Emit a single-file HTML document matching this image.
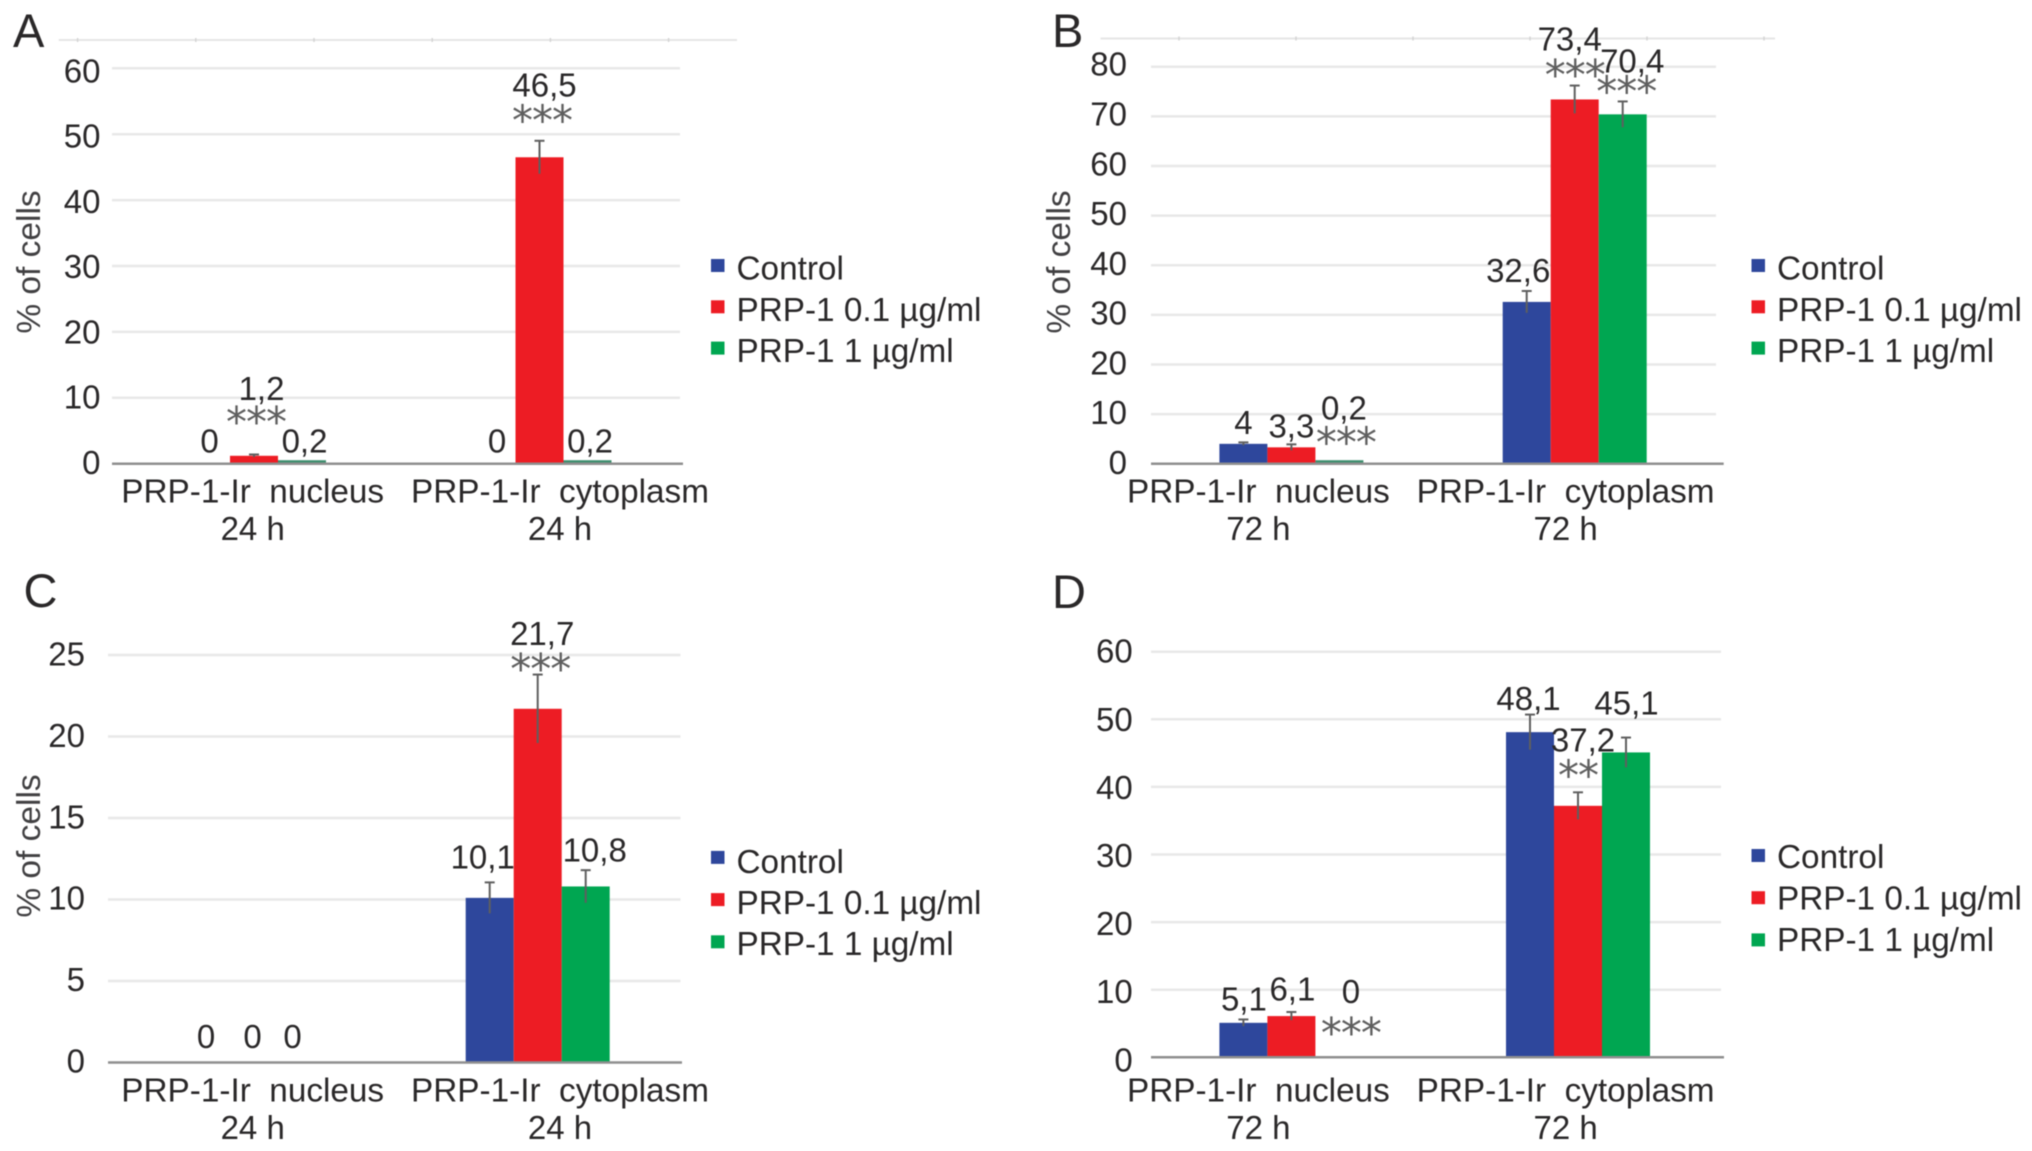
<!DOCTYPE html>
<html lang="en">
<head>
<meta charset="utf-8">
<title>PRP-1 immunoreactivity panels</title>
<style>
html,body{margin:0;padding:0;background:#fff;width:2032px;height:1151px;overflow:hidden}
svg{display:block;filter:blur(0.6px)}
text{font-family:"Liberation Sans",sans-serif;fill:#2a2829;white-space:pre}
</style>
</head>
<body>
<svg id="figure" xmlns="http://www.w3.org/2000/svg" width="2032" height="1151" viewBox="0 0 2032 1151"></svg>
<script>
/* ---------- shared labels ---------- */
const seriesNames = ['Control', 'PRP-1 0.1 µg/ml', 'PRP-1 1 µg/ml'];
const seriesColors = ['#2e479c', '#ed1c24', '#00a651'];
const categoriesNucleusCyto = ['PRP-1-Ir  nucleus', 'PRP-1-Ir  cytoplasm'];

/* ---------- panel A ---------- */
const timeA = ['24 h', '24 h'];
const ticksA = [0, 10, 20, 30, 40, 50, 60];
const controlA = [0, 0];
const low01A = [1.2, 46.5];
const high1A = [0.2, 0.2];
const controlErrA = [0, 0];
const low01ErrA = [0.2, 2.5];
const high1ErrA = [0, 0];
const starsLow01A = ['***', '***'];
const starsHigh1A = ['', ''];

/* ---------- panel B ---------- */
const timeB = ['72 h', '72 h'];
const ticksB = [0, 10, 20, 30, 40, 50, 60, 70, 80];
const controlB = [4, 32.6];
const low01B = [3.3, 73.4];
const high1B = [0.2, 70.4];
const controlErrB = [0.3, 2.2];
const low01ErrB = [0.6, 2.8];
const high1ErrB = [0, 2.6];
const starsLow01B = ['', '***'];
const starsHigh1B = ['***', '***'];

/* ---------- panel C ---------- */
const timeC = ['24 h', '24 h'];
const ticksC = [0, 5, 10, 15, 20, 25];
const controlC = [0, 10.1];
const low01C = [0, 21.7];
const high1C = [0, 10.8];
const controlErrC = [0, 0.95];
const low01ErrC = [0, 2.1];
const high1ErrC = [0, 1.0];
const starsLow01C = ['', '***'];
const starsHigh1C = ['', ''];

/* ---------- panel D ---------- */
const timeD = ['72 h', '72 h'];
const ticksD = [0, 10, 20, 30, 40, 50, 60];
const controlD = [5.1, 48.1];
const low01D = [6.1, 37.2];
const high1D = [0, 45.1];
const controlErrD = [0.5, 2.6];
const low01ErrD = [0.6, 2.0];
const high1ErrD = [0, 2.2];
const starsLow01D = ['', '**'];
const starsHigh1D = ['***', ''];

/* ---------- drawing ---------- */
const NS = 'http://www.w3.org/2000/svg';
const root = document.getElementById('figure');

function make(tag, attrs, parent) {
  const node = document.createElementNS(NS, tag);
  for (const k in attrs) node.setAttribute(k, attrs[k]);
  parent.appendChild(node);
  return node;
}

function drawPanel(p) {
  const group = make('g', {}, root);
  
  

  const yScale = v => p.y0 - v * p.unit;
  const BAR = 48;
  const tickMax = p.ticks[p.ticks.length - 1];

  const letter = make('text', {x: p.letterX, y: p.letterY, 'font-size': 47}, group);
  letter.textContent = p.id;
  
  

  if (p.topLine) {
    const strip = make('line', {x1: p.topLine[0], x2: p.topLine[1], y1: p.topLine[2], y2: p.topLine[2], stroke: '#e6e6e6', 'stroke-width': 2}, group);
    
    
    for (let i = 0; i < 6; i++) {
      const tx = p.topLine[3] + i * p.topLine[4];
      const notch = make('line', {x1: tx, x2: tx, y1: p.topLine[2] - 2, y2: p.topLine[2] + 2, stroke: '#d4d4d4', 'stroke-width': 1.5}, group);
      
      
    }
  }

  p.ticks.forEach(t => {
    const y = yScale(t);
    if (t !== 0) {
      const grid = make('line', {x1: p.gridL, x2: p.gridR, y1: y, y2: y, stroke: '#e8e8e8', 'stroke-width': 2.5}, group);
      
      
    }
    const nudge = p.tickDy[0] + (t / tickMax) * (p.tickDy[1] - p.tickDy[0]);
    const lab = make('text', {x: p.tickRight, y: y + nudge, 'font-size': 33, 'text-anchor': 'end'}, group);
    lab.textContent = String(t);
    
    
  });

  if (p.yTitle) {
    const title = make('text', {'font-size': 33.5, 'text-anchor': 'middle', transform: 'translate(' + p.yTitle[0] + ',' + p.yTitle[1] + ') rotate(-90)', style: 'fill:#414042'}, group);
    title.textContent = '% of cells';
    
    
  }

  p.centers.forEach((c, gi) => {
    p.series.forEach((vals, si) => {
      const v = vals[gi];
      const cx = c + (si - 1) * BAR;
      const top = yScale(v);
      const barH = v > 0 ? Math.max(3.5, p.y0 - top) : 0;
      const tone = (v > 0 && barH < 5) ? '#3e8f6e' : seriesColors[si];

      const bar = make('rect', {x: cx - BAR / 2, y: p.y0 - barH, width: BAR, height: barH, fill: tone}, group);
      
      

      const e = p.errors[si][gi];
      if (e > 0) {
        const hi = yScale(v + e);
        const lo = yScale(Math.max(0, v - e));
        const stem = make('line', {x1: cx, x2: cx, y1: hi, y2: lo, stroke: '#5f5f5f', 'stroke-width': 2}, group);
        
        
        const cap = make('line', {x1: cx - 5, x2: cx + 5, y1: hi, y2: hi, stroke: '#5f5f5f', 'stroke-width': 2}, group);
        
        
      }

      const off = p.valueOffsets[gi][si];
      const label = make('text', {x: cx + off[0], y: top - off[1], 'font-size': 33, 'text-anchor': 'middle'}, group);
      label.textContent = String(v).replace('.', ',');
      
      

      const mark = p.stars[si] ? p.stars[si][gi] : '';
      if (mark) {
        const so = p.starOffsets[gi][si];
        const star = make('text', {x: cx + so[0], y: top - so[1] + 21.5, 'font-size': 42, 'letter-spacing': -1, 'text-anchor': 'middle', style: 'font-family:"DejaVu Sans",sans-serif;fill:#5f5f5f'}, group);
        star.textContent = mark;
        
        
      }
    });
  });

  const axis = make('line', {x1: p.gridL, x2: p.axisR, y1: p.y0, y2: p.y0, stroke: '#8f8f8f', 'stroke-width': 2.5}, group);
  
  

  categoriesNucleusCyto.forEach((name, i) => {
    const cat = make('text', {x: p.catCenters[i], y: p.catY, 'font-size': 33.3, 'text-anchor': 'middle'}, group);
    cat.textContent = name;
    
    
    const time = make('text', {x: p.catCenters[i], y: p.catY + 37.7, 'font-size': 33, 'text-anchor': 'middle'}, group);
    time.textContent = p.time[i];
    
    
  });

  seriesNames.forEach((name, i) => {
    const entry = make('g', {}, group);
    
    
    const sw = make('rect', {x: p.legendX, y: p.legendY + i * p.legendStep - 6.5, width: 13.5, height: 13, fill: seriesColors[i]}, entry);
    
    
    const txt = make('text', {x: p.legendX + 25.5, y: p.legendTextY + i * p.legendTextStep, 'font-size': 33.3}, entry);
    txt.textContent = name;
    
    
  });
}

drawPanel({
  id: 'A', letterX: 13, letterY: 47, time: timeA, ticks: ticksA,
  series: [controlA, low01A, high1A],
  errors: [controlErrA, low01ErrA, high1ErrA],
  stars: [null, starsLow01A, starsHigh1A],
  y0: 463.7, unit: 6.59, gridL: 112, gridR: 680, axisR: 683, tickRight: 100.5, tickDy: [10.3, 14],
  centers: [254, 539.5], catCenters: [252.7, 560], catY: 502.5,
  legendX: 711, legendY: 265.5, legendStep: 41.3, legendTextY: 279.5, legendTextStep: 41.3,
  yTitle: [40, 262], topLine: [58.7, 737, 40, 77.6, 118.2],
  valueOffsets: [[[3.5, 11], [7.5, 56], [2.5, 9.7]], [[5.5, 11], [5, 61], [2.5, 9.7]]],
  starOffsets: [[[0, 0], [2, 41], [0, 0]], [[0, 0], [2.5, 43.8], [0, 0]]]
});

drawPanel({
  id: 'B', letterX: 1052, letterY: 47, time: timeB, ticks: ticksB,
  series: [controlB, low01B, high1B],
  errors: [controlErrB, low01ErrB, high1ErrB],
  stars: [null, starsLow01B, starsHigh1B],
  y0: 463.7, unit: 4.9625, gridL: 1151, gridR: 1716, axisR: 1723.7, tickRight: 1127, tickDy: [10.3, 9],
  centers: [1291.4, 1574.7], catCenters: [1258.4, 1565.6], catY: 502.5,
  legendX: 1751.5, legendY: 265.5, legendStep: 41.3, legendTextY: 279.5, legendTextStep: 41.3,
  yTitle: [1070, 262], topLine: [1100.5, 1775, 38.5, 1179, 117],
  valueOffsets: [[[0, 10], [0, 10], [4.5, 43]], [[-8.5, 20], [-5, 49], [9.5, 41.6]]],
  starOffsets: [[[0, 0], [0, 0], [6.5, 27]], [[0, 0], [0, 31.7], [3.5, 29.6]]]
});

drawPanel({
  id: 'C', letterX: 23.5, letterY: 607, time: timeC, ticks: ticksC,
  series: [controlC, low01C, high1C],
  errors: [controlErrC, low01ErrC, high1ErrC],
  stars: [null, starsLow01C, starsHigh1C],
  y0: 1062.5, unit: 16.3, gridL: 108, gridR: 680.5, axisR: 682, tickRight: 85, tickDy: [10, 10.5],
  centers: [252.6, 537.7], catCenters: [252.7, 560], catY: 1101.5,
  legendX: 711, legendY: 857.4, legendStep: 42.2, legendTextY: 873, legendTextStep: 41,
  yTitle: [40, 846], topLine: null,
  valueOffsets: [[[1.5, 14.5], [0, 14.5], [-8, 14.5]], [[-7, 29.4], [4.5, 63.8], [9, 25]]],
  starOffsets: [[[0, 0], [0, 0], [0, 0]], [[0, 0], [2.5, 46.8], [0, 0]]]
});

drawPanel({
  id: 'D', letterX: 1052, letterY: 608, time: timeD, ticks: ticksD,
  series: [controlD, low01D, high1D],
  errors: [controlErrD, low01ErrD, high1ErrD],
  stars: [null, starsLow01D, starsHigh1D],
  y0: 1057.3, unit: 6.76, gridL: 1151, gridR: 1721, axisR: 1724, tickRight: 1132.7, tickDy: [14, 11],
  centers: [1291.4, 1578], catCenters: [1258.4, 1565.6], catY: 1101.5,
  legendX: 1751.5, legendY: 855.5, legendStep: 42.2, legendTextY: 868, legendTextStep: 41.5,
  yTitle: null, topLine: null,
  valueOffsets: [[[0.5, 12.5], [1, 15.8], [11.5, 54.3]], [[-1.5, 22], [5, 54.5], [0.5, 38]]],
  starOffsets: [[[0, 0], [0, 0], [11.5, 31.3]], [[0, 0], [0, 37.5], [0, 0]]]
});
</script>
</body>
</html>
